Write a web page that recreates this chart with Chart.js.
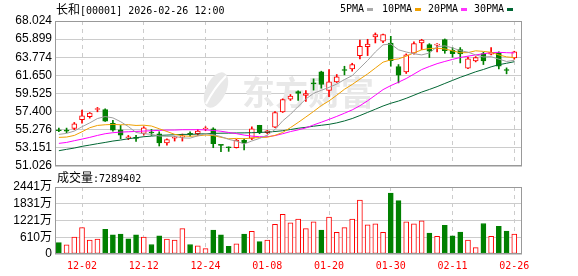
<!DOCTYPE html>
<html>
<head>
<meta charset="utf-8">
<script src="https://cdn.jsdelivr.net/npm/chart.js@4.4.1/dist/chart.umd.min.js"></script>
<style>
  body { margin: 0; background: #fff; width: 578px; height: 276px; overflow: hidden; position: relative; }
  canvas { position: absolute; left: 0; }
  #price { top: 0; }
  #vol { top: 172px; }
  .t { position: absolute; font: 10px 'DejaVu Sans Mono', monospace; color: #000; white-space: pre; line-height: 12px; z-index: 2; }
  .cjk { font-family: 'Noto Sans CJK SC', sans-serif; font-size: 12px; line-height: 12px; }
  .key { position: absolute; width: 6px; height: 3px; z-index: 2; }
</style>
</head>
<body>
<div class="t" style="left:56px;top:3px"><span class="cjk">长和</span>[00001] 2026-02-26 12:00</div>
<div class="t" style="left:340px;top:3px">5PMA</div><div class="key" style="left:367px;top:8px;background:#aaaaaa"></div>
<div class="t" style="left:382px;top:3px">10PMA</div><div class="key" style="left:415px;top:8px;background:#f0a000"></div>
<div class="t" style="left:428px;top:3px">20PMA</div><div class="key" style="left:461px;top:8px;background:#ff33ff"></div>
<div class="t" style="left:474px;top:3px">30PMA</div><div class="key" style="left:507px;top:8px;background:#006633"></div>
<div class="t" style="left:57px;top:171px"><span class="cjk">成交量</span>:7289402</div>

<canvas id="price" width="578" height="180"></canvas>
<canvas id="vol" width="578" height="104"></canvas>

<script>
// trading days shown (MM-DD)
const dates = ['11-27','11-28','12-01','12-02','12-03','12-04','12-05','12-08','12-09','12-10',
  '12-11','12-12','12-15','12-16','12-17','12-18','12-19','12-22','12-23','12-24',
  '12-29','12-30','12-31','01-02','01-05','01-06','01-07','01-08','01-09','01-12',
  '01-13','01-14','01-15','01-16','01-19','01-20','01-21','01-22','01-23','01-26',
  '01-27','01-28','01-29','01-30','02-02','02-03','02-04','02-05','02-06','02-09',
  '02-10','02-11','02-12','02-13','02-16','02-20','02-23','02-24','02-25','02-26'];
const tickIdx = [3, 11, 19, 27, 35, 43, 51, 59];

const opens = [55.28,55.24,55.43,56.45,56.80,57.65,57.65,56.02,55.28,54.34,
  54.34,54.85,54.96,54.81,53.72,54.28,54.40,54.85,54.81,55.36,
  55.39,53.52,53.25,53.17,54.03,54.26,55.78,54.93,55.59,57.38,
  58.86,59.76,59.29,60.77,62.06,59.88,60.89,62.33,62.41,63.97,
  65.02,66.15,65.65,65.45,62.68,62.06,64.24,65.45,65.26,65.18,
  65.84,64.59,64.67,62.49,63.35,64.20,64.13,64.28,62.29,63.70];
const closes = [55.16,55.12,55.98,56.91,57.23,57.69,56.29,55.24,54.65,54.38,
  54.26,55.51,54.89,53.72,54.11,54.32,54.55,54.73,55.12,55.40,
  53.64,53.44,53.17,54.07,53.72,55.39,54.93,55.16,57.30,58.82,
  59.21,59.53,59.53,60.65,60.58,60.89,61.48,62.22,62.92,65.06,
  65.33,66.43,66.43,63.38,61.67,64.05,65.37,65.80,64.48,65.33,
  64.55,64.20,64.17,63.58,63.74,63.35,64.36,62.72,62.22,64.40];
const highs = [55.47,55.47,56.13,57.58,57.30,57.89,57.73,56.37,55.78,54.61,
  54.61,55.63,55.31,55.04,54.22,54.50,54.77,55.04,55.31,55.63,
  55.51,53.55,53.27,54.15,54.22,55.63,55.80,55.20,57.42,58.90,
  59.41,59.84,59.88,61.24,62.14,62.33,61.75,62.72,63.07,65.80,
  65.88,66.62,66.50,66.23,62.92,64.17,65.57,65.88,65.37,65.37,
  65.92,64.91,64.91,63.78,63.85,64.36,64.91,64.40,62.53,64.48];
const lows = [55.04,54.93,55.28,56.06,56.64,57.38,56.25,55.12,54.22,54.11,
  53.91,54.65,54.61,53.37,53.48,53.95,53.95,54.53,54.61,55.16,
  53.17,52.70,52.74,53.13,52.90,54.11,54.81,54.81,55.51,57.30,
  58.71,58.71,58.59,59.92,60.15,59.14,60.81,61.71,62.14,63.58,
  63.97,65.45,65.49,62.72,60.77,61.87,64.13,64.67,63.74,64.40,
  64.24,63.78,63.11,62.45,63.23,62.92,64.05,62.41,61.83,63.54];

const ma5 = [54.73,54.85,55.12,55.63,56.08,56.59,56.82,56.67,56.22,55.65,
  54.96,54.81,54.74,54.55,54.50,54.51,54.32,54.29,54.57,54.82,
  54.69,54.47,54.15,53.94,53.61,53.96,54.26,54.65,55.30,56.32,
  57.08,58.00,58.88,59.55,59.90,60.24,60.63,61.16,61.62,62.51,
  63.40,64.39,65.23,65.33,64.65,64.39,64.18,64.05,64.27,65.01,
  65.11,64.87,64.55,64.37,64.05,63.81,63.84,63.55,63.28,63.41];
const ma10 = [54.38,54.42,54.61,55.04,55.51,55.78,55.86,55.90,55.86,55.87,
  55.78,55.81,55.71,55.39,55.07,54.74,54.56,54.51,54.56,54.66,
  54.60,54.39,54.22,54.26,54.22,54.32,54.36,54.40,54.62,54.96,
  55.52,56.13,56.77,57.42,58.11,58.66,59.32,60.02,60.58,61.21,
  61.82,62.51,63.20,63.47,63.58,63.90,64.29,64.64,64.80,64.83,
  64.75,64.53,64.30,64.32,64.53,64.46,64.36,64.05,63.82,63.73];
const ma20 = [53.68,53.79,53.99,54.18,54.38,54.61,54.81,54.93,55.00,55.04,
  55.08,55.12,55.16,55.20,55.24,55.24,55.28,55.28,55.28,55.26,
  55.19,55.10,54.96,54.82,54.65,54.53,54.46,54.46,54.59,54.81,
  55.06,55.26,55.49,55.84,56.16,56.49,56.84,57.21,57.60,58.09,
  58.67,59.32,59.98,60.45,60.85,61.28,61.80,62.33,62.69,63.02,
  63.28,63.52,63.75,63.90,64.05,64.18,64.32,64.35,64.31,64.28];
const ma30 = [52.82,52.98,53.13,53.33,53.48,53.64,53.79,53.95,54.07,54.22,
  54.34,54.46,54.53,54.61,54.65,54.69,54.73,54.73,54.77,54.81,
  54.85,54.87,54.88,54.90,54.91,54.93,54.96,55.00,55.07,55.16,
  55.30,55.45,55.56,55.69,55.80,55.91,56.08,56.31,56.59,56.94,
  57.31,57.68,58.06,58.38,58.64,58.96,59.32,59.69,60.00,60.33,
  60.70,61.06,61.42,61.74,62.07,62.34,62.65,62.90,63.07,63.25];

// volume in 万 shares, and whether the bar is drawn as an "up" (red) bar
const volumes = [417,336,614,961,510,544,903,695,730,556,
  695,614,347,660,544,510,926,347,301,197,
  869,695,278,371,730,822,452,510,1077,1448,
  1135,1274,926,1170,869,1343,787,961,1274,1969,
  1065,1100,787,2223,1945,1170,1100,1204,764,648,
  1042,660,799,510,232,1112,648,1007,834,729];
const volUp = [0,1,1,1,1,1,0,0,0,0,
  0,1,0,0,1,1,1,0,1,1,
  0,0,0,1,0,1,0,1,1,1,
  1,1,1,1,0,1,1,1,1,1,
  1,1,1,0,0,1,1,1,0,1,
  0,0,0,1,1,0,1,0,0,1];

const priceTicks = [51.026, 53.151, 55.276, 57.400, 59.525, 61.650, 63.774, 65.899, 68.024];
const volTicks = [0, 610.25, 1220.5, 1830.75, 2441];

const RED = '#ff0000', GREEN = '#008000';
const isUp = closes.map((c, i) => c >= opens[i]);
function pts(arr) { return arr.map((v, i) => ({ x: i, y: v })); }

// frame round the plot area
const frame = {
  id: 'frame',
  afterDraw(chart) {
    const a = chart.chartArea, c = chart.ctx;
    c.save();
    c.strokeStyle = '#999999';
    c.lineWidth = 1;
    c.strokeRect(Math.round(a.left) + 0.5, Math.round(a.top) + 0.5, Math.round(a.right - a.left) - 1, Math.round(a.bottom - a.top) - 1);
    c.restore();
  }
};

// faint site watermark
const watermark = {
  id: 'watermark',
  beforeDatasetsDraw(chart) {
    const c = chart.ctx;
    c.save();
    c.fillStyle = '#e8e8e8';
    c.beginPath();
    c.ellipse(216, 90, 10, 19, 0.45, 0, Math.PI * 2);
    c.fill();
    c.strokeStyle = '#ffffff';
    c.lineWidth = 2;
    c.beginPath();
    c.moveTo(206, 104); c.quadraticCurveTo(214, 88, 226, 76);
    c.stroke();
    c.font = 'bold 33px "Noto Sans CJK SC"';
    c.textBaseline = 'middle';
    c.fillText('东方财富', 242, 92);
    c.restore();
  }
};

const xScale = {
  type: 'linear', min: -0.5, max: 60, offset: false,
  afterBuildTicks: s => { s.ticks = tickIdx.map(v => ({ value: v })); },
  grid: { color: '#cccccc', drawTicks: false, offset: false },
  border: { display: false, dash: [4, 4] }
};

new Chart(document.getElementById('price'), {
  type: 'bar',
  data: {
    datasets: [
      { type: 'line', data: pts(ma5), borderColor: '#a0a0a0', borderWidth: 1, pointRadius: 0, order: 0 },
      { type: 'line', data: pts(ma10), borderColor: '#f0a000', borderWidth: 1, pointRadius: 0, order: 0 },
      { type: 'line', data: pts(ma20), borderColor: '#ff00ff', borderWidth: 1, pointRadius: 0, order: 0 },
      { type: 'line', data: pts(ma30), borderColor: '#006633', borderWidth: 1, pointRadius: 0, order: 0 },
      {
        data: opens.map((o, i) => ({ x: i, y: [o, closes[i]] })),
        backgroundColor: isUp.map(u => u ? '#ffffff' : GREEN),
        borderColor: isUp.map(u => u ? RED : GREEN),
        borderWidth: 1, borderSkipped: false, barThickness: 5, minBarLength: 1, grouped: false, order: 1
      },
      {
        data: lows.map((l, i) => ({ x: i, y: [l, highs[i]] })),
        backgroundColor: isUp.map(u => u ? RED : GREEN),
        borderWidth: 0, barThickness: 1, grouped: false, order: 2
      }
    ]
  },
  options: {
    responsive: false, animation: false,
    layout: { padding: { left: 0, right: 56, top: 21, bottom: 14 } },
    plugins: { legend: { display: false }, tooltip: { enabled: false } },
    scales: {
      x: Object.assign({}, xScale, { ticks: { display: false }, afterFit: s => { s.height = 0; } }),
      y: {
        min: 51.026, max: 68.024,
        afterBuildTicks: s => { s.ticks = priceTicks.map(v => ({ value: v })); },
        afterFit: s => { s.width = 55; },
        ticks: { color: '#000', font: { family: 'Liberation Sans', size: 12 }, padding: 3, autoSkip: false, callback: v => v.toFixed(3) },
        grid: { color: '#cccccc', drawTicks: false },
        border: { display: false }
      }
    }
  },
  plugins: [watermark, frame]
});

new Chart(document.getElementById('vol'), {
  type: 'bar',
  data: {
    datasets: [{
      data: volumes.map((v, i) => ({ x: i, y: v })),
      backgroundColor: volUp.map(u => u ? '#ffffff' : GREEN),
      borderColor: volUp.map(u => u ? RED : GREEN),
      borderWidth: 1, borderSkipped: false, barThickness: 5, grouped: false
    }]
  },
  options: {
    responsive: false, animation: false,
    layout: { padding: { left: 0, right: 56, top: 15, bottom: 0 } },
    plugins: { legend: { display: false }, tooltip: { enabled: false } },
    scales: {
      x: Object.assign({}, xScale, {
        ticks: { color: RED, font: { family: 'DejaVu Sans Mono', size: 10 }, padding: 6, autoSkip: false, maxRotation: 0, callback: v => dates[v] },
        afterFit: s => { s.height = 22; }
      }),
      y: {
        min: 0, max: 2441,
        afterBuildTicks: s => { s.ticks = volTicks.map(v => ({ value: v })); },
        afterFit: s => { s.width = 55; },
        ticks: { color: '#000', font: { family: "'Liberation Sans', 'Noto Sans CJK SC'", size: 12 }, padding: 3, autoSkip: false, callback: v => v === 0 ? '0' : Math.round(v) + '万' },
        grid: { color: '#cccccc', drawTicks: false },
        border: { display: false }
      }
    }
  },
  plugins: [frame]
});
</script>
</body>
</html>
